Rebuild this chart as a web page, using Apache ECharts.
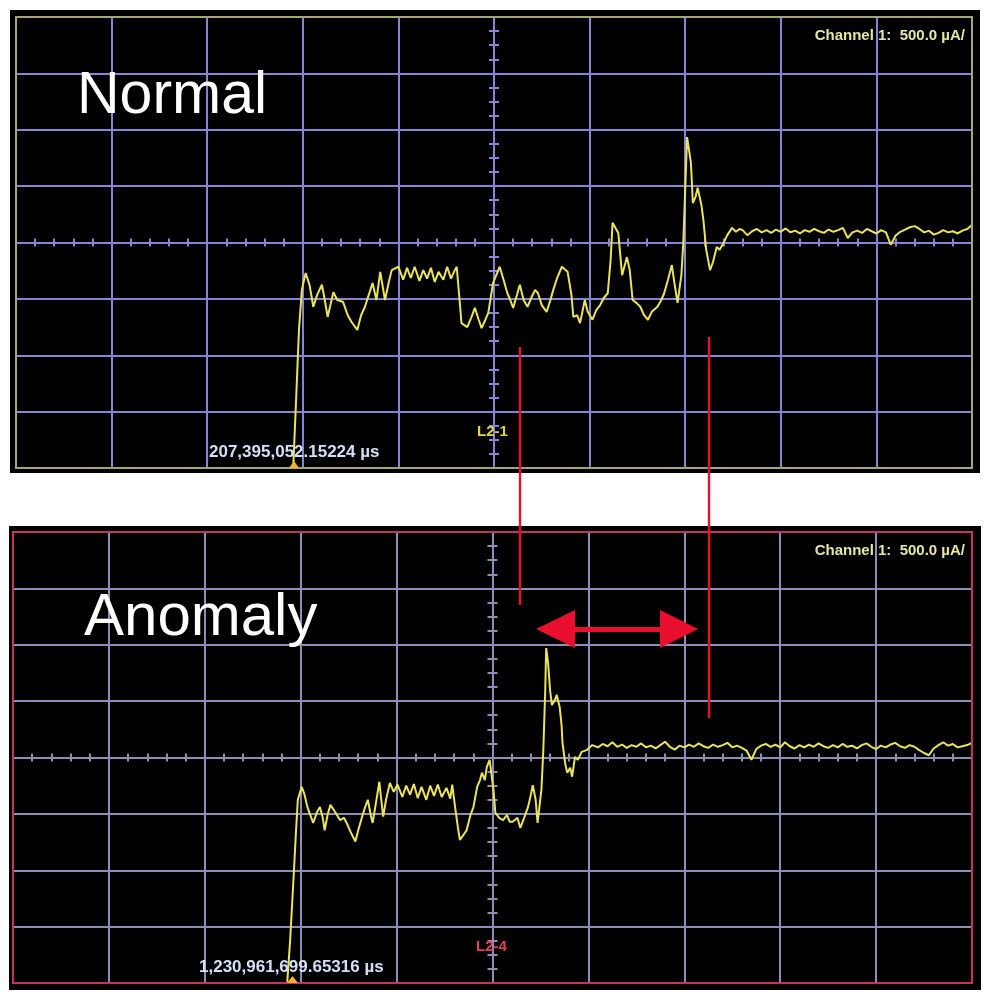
<!DOCTYPE html>
<html>
<head>
<meta charset="utf-8">
<script src="https://cdn.jsdelivr.net/npm/echarts@6/dist/echarts.min.js"></script>
<style>
html,body{margin:0;padding:0;background:#fff;}
#chart{width:990px;height:1001px;}
</style>
</head>
<body>
<div id="chart"></div>
<script>
// Traces in screen divisions: x = horizontal division from centre (-5..5), y = vertical division (-4..4), 500 µA/div
const normalTrace = [
[-2.10,-3.98],[-2.07,-2.79],[-2.04,-1.55],[-2.01,-0.84],[-1.97,-0.54],[-1.93,-0.75],[-1.89,-1.14],[-1.85,-0.93],[-1.80,-0.75],[-1.77,-1.02],
[-1.74,-1.32],[-1.68,-0.88],[-1.64,-1.02],[-1.58,-1.05],[-1.53,-1.29],[-1.49,-1.41],[-1.43,-1.55],[-1.39,-1.29],[-1.35,-1.14],[-1.31,-0.93],
[-1.27,-0.72],[-1.23,-1.02],[-1.19,-0.52],[-1.14,-1.02],[-1.10,-0.70],[-1.07,-0.49],[-1.00,-0.43],[-0.95,-0.66],[-0.91,-0.45],[-0.87,-0.63],
[-0.83,-0.43],[-0.78,-0.68],[-0.74,-0.49],[-0.70,-0.64],[-0.66,-0.45],[-0.62,-0.70],[-0.58,-0.52],[-0.53,-0.66],[-0.49,-0.43],[-0.45,-0.64],
[-0.41,-0.49],[-0.39,-0.43],[-0.36,-1.02],[-0.34,-1.43],[-0.28,-1.50],[-0.24,-1.34],[-0.20,-1.16],[-0.16,-1.37],[-0.13,-1.52],[-0.09,-1.37],
[-0.06,-1.25],[-0.01,-0.72],[0.06,-0.43],[0.10,-0.66],[0.14,-0.90],[0.17,-1.02],[0.20,-1.16],[0.24,-0.93],[0.27,-0.75],[0.31,-1.02],
[0.35,-1.14],[0.39,-0.98],[0.43,-0.84],[0.46,-0.90],[0.50,-1.11],[0.55,-1.23],[0.59,-1.02],[0.62,-0.84],[0.66,-0.63],[0.71,-0.43],
[0.77,-0.52],[0.81,-0.93],[0.83,-1.32],[0.87,-1.29],[0.90,-1.43],[0.95,-1.02],[0.98,-1.23],[1.03,-1.37],[1.07,-1.20],[1.11,-1.11],
[1.15,-0.98],[1.19,-0.90],[1.22,-0.31],[1.24,0.35],[1.30,0.17],[1.34,-0.58],[1.39,-0.26],[1.42,-0.49],[1.45,-1.02],[1.49,-1.07],
[1.53,-1.14],[1.57,-1.29],[1.61,-1.37],[1.65,-1.23],[1.71,-1.14],[1.75,-1.02],[1.78,-0.90],[1.82,-0.66],[1.86,-0.40],[1.89,-0.75],
[1.92,-1.07],[1.96,-0.58],[1.98,-0.01],[2.00,0.93],[2.02,1.87],[2.04,1.64],[2.06,1.41],[2.08,0.70],[2.11,0.82],[2.13,0.97],
[2.17,0.66],[2.19,0.40],[2.22,-0.13],[2.26,-0.49],[2.29,-0.35],[2.33,-0.08],[2.36,-0.13],[2.40,-0.01],[2.44,0.13],[2.49,0.26],
[2.53,0.19],[2.57,0.24],[2.60,0.22],[2.65,0.13],
[2.70,0.20],[2.75,0.24],[2.80,0.18],[2.85,0.22],[2.90,0.17],[2.95,0.23],[3.00,0.19],[3.05,0.25],[3.10,0.18],[3.15,0.21],
[3.20,0.16],[3.25,0.22],[3.30,0.19],[3.35,0.24],[3.40,0.20],[3.45,0.17],[3.50,0.23],[3.55,0.19],[3.60,0.22],[3.65,0.26],
[3.70,0.08],[3.75,0.18],[3.80,0.21],[3.85,0.17],[3.90,0.24],[3.95,0.20],[4.00,0.16],[4.05,0.22],[4.10,0.18],[4.15,-0.04],
[4.20,0.12],[4.25,0.19],[4.30,0.23],[4.35,0.27],[4.40,0.29],[4.45,0.24],[4.50,0.18],[4.55,0.21],[4.60,0.14],[4.65,0.17],
[4.70,0.22],[4.75,0.18],[4.80,0.20],[4.85,0.16],[4.90,0.21],[4.95,0.24],[5.00,0.31]
];
const anomalyTrace = [
[-2.14,-3.98],[-2.11,-3.24],[-2.07,-1.99],[-2.05,-1.34],[-2.03,-0.75],[-1.99,-0.52],[-1.96,-0.66],[-1.93,-0.88],[-1.90,-1.02],[-1.87,-1.16],
[-1.83,-0.97],[-1.80,-0.88],[-1.77,-1.07],[-1.75,-1.29],[-1.72,-1.02],[-1.69,-0.84],[-1.64,-0.97],[-1.59,-1.11],[-1.55,-1.07],[-1.52,-1.16],
[-1.48,-1.32],[-1.43,-1.49],[-1.40,-1.29],[-1.36,-1.05],[-1.33,-0.89],[-1.30,-0.75],[-1.27,-1.02],[-1.25,-1.16],[-1.21,-0.75],[-1.18,-0.43],
[-1.16,-0.75],[-1.14,-1.05],[-1.11,-0.75],[-1.07,-0.45],[-1.03,-0.61],[-0.99,-0.48],[-0.94,-0.70],[-0.90,-0.50],[-0.86,-0.66],[-0.82,-0.47],
[-0.78,-0.72],[-0.74,-0.52],[-0.69,-0.75],[-0.65,-0.50],[-0.61,-0.68],[-0.57,-0.48],[-0.53,-0.70],[-0.48,-0.54],[-0.44,-0.73],[-0.42,-0.48],
[-0.39,-0.88],[-0.36,-1.25],[-0.34,-1.46],[-0.31,-1.39],[-0.27,-1.29],[-0.23,-1.02],[-0.20,-0.89],[-0.16,-0.52],[-0.13,-0.40],[-0.11,-0.27],
[-0.08,-0.40],[-0.06,-0.17],[-0.03,-0.04],[0.01,-0.57],[0.03,-0.98],[0.07,-1.07],[0.11,-1.11],[0.15,-1.02],[0.18,-1.14],[0.21,-1.14],
[0.26,-1.07],[0.29,-1.25],[0.33,-1.07],[0.37,-0.88],[0.40,-0.66],[0.42,-0.49],[0.45,-0.75],[0.47,-1.16],[0.51,-0.57],[0.53,0.13],
[0.55,1.20],[0.56,1.94],[0.58,1.67],[0.60,1.20],[0.62,0.93],[0.65,1.02],[0.67,1.11],[0.70,0.90],[0.72,0.58],[0.73,0.26],
[0.76,-0.13],[0.78,-0.27],[0.81,-0.18],[0.83,-0.34],[0.86,0.01],[0.89,-0.04],[0.93,0.10],[0.98,0.13],[1.04,0.22],
[1.10,0.18],[1.15,0.24],[1.20,0.20],[1.25,0.27],[1.30,0.19],[1.35,0.23],[1.40,0.17],[1.45,0.22],[1.50,0.19],[1.55,0.25],
[1.60,0.18],[1.65,0.21],[1.70,0.16],[1.75,0.22],[1.80,0.28],[1.85,0.19],[1.90,0.14],[1.95,0.21],[2.00,0.18],[2.05,0.23],
[2.10,0.19],[2.15,0.25],[2.20,0.20],[2.25,0.17],[2.30,0.23],[2.35,0.19],[2.40,0.22],[2.45,0.26],[2.50,0.18],[2.55,0.21],
[2.60,0.17],[2.65,0.12],[2.70,-0.04],[2.75,0.15],[2.80,0.21],[2.85,0.24],[2.90,0.19],[2.95,0.23],[3.00,0.18],[3.05,0.27],
[3.10,0.20],[3.15,0.16],[3.20,0.22],[3.25,0.18],[3.30,0.23],[3.35,0.19],[3.40,0.25],[3.45,0.20],[3.50,0.17],[3.55,0.22],
[3.60,0.18],[3.65,0.24],[3.70,0.19],[3.75,0.21],[3.80,0.16],[3.85,0.22],[3.90,0.25],[3.95,0.19],[4.00,0.15],[4.05,0.21],
[4.10,0.18],[4.15,0.23],[4.20,0.26],[4.25,0.20],[4.30,0.17],[4.35,0.22],[4.40,0.19],[4.45,0.13],[4.50,0.08],[4.55,0.04],
[4.60,0.16],[4.65,0.22],[4.70,0.27],[4.75,0.21],[4.80,0.24],[4.85,0.18],[4.90,0.20],[4.95,0.22],[5.00,0.26]
];
const panelTitles = ['Normal', 'Anomaly'];
const channelLabel = 'Channel 1:  500.0 \u00b5A/';
const timeLabels = ['207,395,052.15224 \u00b5s', '1,230,961,699.65316 \u00b5s'];
const refLabels = ['L2-1', 'L2-4'];
const xRange = [-5, 5];
const yRange = [-4, 4];

const chart = echarts.init(document.getElementById('chart'), null, {renderer: 'canvas'});

const gridColors = ['#8585d5', '#8e8eb6'];
const traceColor = '#ebe35a';

function axesFor(gi, col) {
  const ls = {color: col, width: 2};
  const xs = [
    {type: 'value', gridIndex: gi, min: xRange[0], max: xRange[1], interval: 1, position: 'bottom',
     axisLine: {show: true, onZero: true, lineStyle: ls},
     axisTick: {show: true, inside: true, length: 4, lineStyle: {color: col, width: 2}},
     minorTick: {show: true, splitNumber: 5, length: 4, lineStyle: {color: col, width: 2}},
     axisLabel: {show: false},
     splitLine: {show: true, lineStyle: ls}},
    {type: 'value', gridIndex: gi, min: xRange[0], max: xRange[1], interval: 1, position: 'top',
     axisLine: {show: false, onZero: true},
     axisTick: {show: true, inside: true, length: 4, lineStyle: {color: col, width: 2}},
     minorTick: {show: true, splitNumber: 5, length: 4, lineStyle: {color: col, width: 2}},
     axisLabel: {show: false}, splitLine: {show: false}}
  ];
  const ys = [
    {type: 'value', gridIndex: gi, min: yRange[0], max: yRange[1], interval: 1, position: 'left',
     axisLine: {show: true, onZero: true, lineStyle: ls},
     axisTick: {show: true, inside: true, length: 5, lineStyle: {color: col, width: 2}},
     minorTick: {show: true, splitNumber: 4, length: 5, lineStyle: {color: col, width: 2}},
     axisLabel: {show: false},
     splitLine: {show: true, lineStyle: ls}},
    {type: 'value', gridIndex: gi, min: yRange[0], max: yRange[1], interval: 1, position: 'right',
     axisLine: {show: false, onZero: true},
     axisTick: {show: true, inside: true, length: 5, lineStyle: {color: col, width: 2}},
     minorTick: {show: true, splitNumber: 4, length: 5, lineStyle: {color: col, width: 2}},
     axisLabel: {show: false}, splitLine: {show: false}}
  ];
  return {xs, ys};
}
const a0 = axesFor(0, gridColors[0]);
const a1 = axesFor(1, gridColors[1]);

const red = '#e8102e';
function txt(text, x, y, font, fill, align) {
  return {type: 'text', z: 20, style: {text, x, y, font, fill, textAlign: align || 'left', align: align || 'left', textVerticalAlign: 'middle', verticalAlign: 'middle'}};
}

const option = {
  backgroundColor: '#ffffff',
  animation: false,
  grid: [
    {left: 16, top: 17, width: 956, height: 451, show: false},
    {left: 13, top: 532, width: 959, height: 451, show: false}
  ],
  xAxis: [].concat(a0.xs, a1.xs),
  yAxis: [].concat(a0.ys, a1.ys),
  series: [
    {type: 'line', xAxisIndex: 0, yAxisIndex: 0, data: normalTrace, showSymbol: false, symbol: 'none',
     lineStyle: {color: traceColor, width: 2}, z: 5},
    {type: 'line', xAxisIndex: 2, yAxisIndex: 2, data: anomalyTrace, showSymbol: false, symbol: 'none',
     lineStyle: {color: traceColor, width: 2}, z: 5}
  ],
  graphic: [
    {type: 'rect', z: -10, shape: {x: 10, y: 10, width: 970, height: 463}, style: {fill: '#000'}},
    {type: 'rect', z: -10, shape: {x: 9, y: 526, width: 972, height: 464}, style: {fill: '#000'}},
    {type: 'rect', z: 15, shape: {x: 16, y: 17, width: 956, height: 451}, style: {fill: null, stroke: '#a8a47a', lineWidth: 2}},
    {type: 'rect', z: 15, shape: {x: 13, y: 532, width: 959, height: 451}, style: {fill: null, stroke: '#c83262', lineWidth: 2}},
    // red annotation lines and double arrow
    {type: 'line', z: 20, shape: {x1: 520, y1: 347, x2: 520, y2: 605}, style: {stroke: red, lineWidth: 2.4}},
    {type: 'line', z: 20, shape: {x1: 709, y1: 337, x2: 709, y2: 718}, style: {stroke: red, lineWidth: 2.4}},
    {type: 'polygon', z: 20, shape: {points: [[536,629],[575,610],[575,627],[660,627],[660,610],[698,629],[660,648],[660,632],[575,632],[575,648]]}, style: {fill: red}},
    // trigger markers
    {type: 'polygon', z: 20, shape: {points: [[289,468],[299,468],[294,461]]}, style: {fill: '#f2b42a'}},
    {type: 'polygon', z: 20, shape: {points: [[287,983],[298,983],[292.5,976]]}, style: {fill: '#f2b42a'}},
    txt(panelTitles[0], 77, 97, '59px "Liberation Sans", Arial, sans-serif', '#ffffff'),
    txt(panelTitles[1], 84, 618, '60px "Liberation Sans", Arial, sans-serif', '#ffffff'),
    txt(channelLabel, 965, 36, 'bold 15px "Liberation Sans", Arial, sans-serif', '#e6e6a2', 'right'),
    txt(channelLabel, 965, 551, 'bold 15px "Liberation Sans", Arial, sans-serif', '#e6e6a2', 'right'),
    txt(timeLabels[0], 209, 452, 'bold 17px "Liberation Sans", Arial, sans-serif', '#d2e0f8'),
    txt(timeLabels[1], 199, 967, 'bold 17px "Liberation Sans", Arial, sans-serif', '#d2e0f8'),
    txt(refLabels[0], 477, 432, 'bold 15px "Liberation Sans", Arial, sans-serif', '#e2d24a'),
    txt(refLabels[1], 476, 947, 'bold 15px "Liberation Sans", Arial, sans-serif', '#e2405e')
  ]
};
chart.setOption(option);
</script>
</body>
</html>
